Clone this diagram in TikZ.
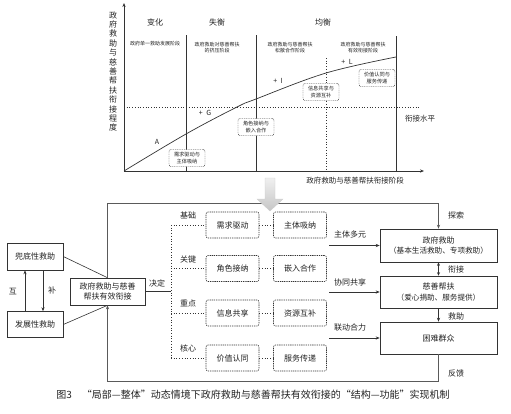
\documentclass[tikz,border=0pt]{standalone}
\usepackage{fontspec}
\setmainfont{Noto Sans CJK SC}
\usetikzlibrary{arrows.meta,calc}
\definecolor{lc}{HTML}{333333}
\definecolor{fc}{HTML}{5A5A5A}
\definecolor{tc}{HTML}{222222}
\begin{document}
\begin{tikzpicture}[x=1pt,y=-1pt,
  every node/.style={text=tc},
  ax/.style={draw=lc,line width=0.7pt},
  sl/.style={draw=lc,line width=0.6pt},
  dl/.style={draw=lc,line width=0.7pt,dotted},
  arr/.style={-{Stealth[length=4pt,width=3.2pt]}},
  cbox/.style={draw=lc,line width=0.45pt,dash pattern=on 1pt off 0.8pt,rounded corners=2pt,fill=white,
    minimum width=36pt,minimum height=17pt,inner sep=0pt,align=center,font=\fontsize{5.2}{6.6}\selectfont},
  lbl/.style={font=\fontsize{8}{9.6}\selectfont},
  stg/.style={font=\fontsize{5}{6.8}\selectfont,align=center},
  letr/.style={font=\fontsize{7}{8}\selectfont},
  sbox/.style={draw=lc,line width=0.6pt,fill=white,inner sep=0pt,align=center,font=\fontsize{8}{10.5}\selectfont},
  dbox/.style={draw=lc,line width=0.55pt,dash pattern=on 1.3pt off 0.9pt,rounded corners=2pt,fill=white,
    minimum width=53pt,minimum height=26pt,inner sep=0pt,font=\fontsize{8}{9.6}\selectfont},
  rbox/.style={draw=lc,line width=0.6pt,fill=white,minimum width=117pt,minimum height=32pt,inner sep=0pt,
    align=center,font=\fontsize{7.6}{10.5}\selectfont},
  frm/.style={draw=fc,line width=0.8pt}
]
\useasboundingbox (0,0) rectangle (511,413);

% ---------------- top chart ----------------
\coordinate (O) at (124,171);
\coordinate (Ytop) at (124,3);
\coordinate (Xend) at (424,171);
\draw[ax,arr] (O) -- (Ytop);
\draw[ax,arr] (O) -- (Xend);

\coordinate (v1t) at (186,35); \coordinate (v1b) at (186,171);
\coordinate (v2t) at (256,35); \coordinate (v2b) at (256,171);
\coordinate (v3t) at (396,36); \coordinate (v3b) at (396,171);
\draw[sl] (v1t) -- (v1b);
\draw[sl] (v2t) -- (v2b);
\draw[sl] (v3t) -- (v3b);
\coordinate (d1t) at (326,58); \coordinate (d1b) at (326,171);
\draw[dl,line width=0.6pt] (d1t) -- (d1b);
\coordinate (h1l) at (124,107); \coordinate (h1r) at (420,107);
\draw[dl,line width=0.6pt] (h1l) -- (h1r);

\draw[lc,line width=0.7pt] plot[smooth,tension=0.6] coordinates {(124,171) (186,134) (237,107) (256,99) (326,73) (396,57)};

\node[align=center,font=\fontsize{8}{9.4}\selectfont] (ylab) at (113,71.5)
  {政\\府\\救\\助\\与\\慈\\善\\帮\\扶\\衔\\接\\程\\度};
\node[font=\fontsize{7.5}{9}\selectfont] (xlab) at (355,181) {政府救助与慈善帮扶衔接阶段};
\node[font=\fontsize{7.5}{9}\selectfont] (lvl) at (420,119) {衔接水平};

\node[lbl] (s1) at (155,22) {变化};
\node[lbl] (s2) at (217,22) {失衡};
\node[lbl] (s3) at (323,22) {均衡};
\node[stg] (p1) at (155,44) {政府单一救助发展阶段};
\node[stg] (p2) at (217,47.5) {政府救助对慈善帮扶\\的挤压阶段};
\node[stg] (p3) at (290,47.5) {政府救助与慈善帮扶\\松散合作阶段};
\node[stg] (p4) at (363,47.5) {政府救助与慈善帮扶\\有效衔接阶段};

\node[letr] (la) at (157,142) {A};
\node[letr] (lg) at (205,113) {+\enspace G};
\node[letr] (li) at (278,81) {+\enspace I};
\node[letr] (ll) at (347,62) {+\enspace L};

\node[cbox] (c1) at (187,158) {需求驱动与\\主体吸纳};
\node[cbox] (c2) at (256,127) {角色接纳与\\嵌入合作};
\node[cbox] (c3) at (321,92) {信息共享与\\资源互补};
\node[cbox] (c4) at (377,78) {价值认同与\\服务传递};

% ---------------- bottom mechanism ----------------
\node[sbox,minimum width=56pt,minimum height=27pt] (n1) at (35,256.5) {兜底性救助};
\node[sbox,minimum width=56pt,minimum height=26pt] (n2) at (35,324.5) {发展性救助};
\node[sbox,minimum width=75pt,minimum height=27pt] (hub) at (107.5,291.5) {政府救助与慈善\\帮扶有效衔接};

\draw[sl,arr] ([xshift=-10pt]n2.north) -- ([xshift=-10pt]n1.south);
\draw[sl,arr] ([xshift=8pt]n1.south) -- ([xshift=8pt]n2.north);
\node[lbl] (hu) at (13,292) {互};
\node[lbl] (bu) at (52,290) {补};

\draw[sl] (n1.east) -- (hub.north);
\draw[sl] (n2.east) -- (hub.south);

% dashed boxes
\node[dbox] (a1) at (232.5,225) {需求驱动};
\node[dbox] (b1) at (300,225) {主体吸纳};
\node[dbox] (a2) at (232.5,268.5) {角色接纳};
\node[dbox] (b2) at (300,268.5) {嵌入合作};
\node[dbox] (a3) at (232.5,313) {信息共享};
\node[dbox] (b3) at (300,313) {资源互补};
\node[dbox] (a4) at (232.5,358) {价值认同};
\node[dbox] (b4) at (300,358) {服务传递};
\foreach \i in {1,2,3,4} {\draw[dl,line width=0.6pt] (a\i.east) -- (b\i.west);}

\coordinate (br1) at (171,225);
\coordinate (br4) at (171,358);
\coordinate (brm) at (171,291.5);
\draw[dl,line width=0.7pt] (br1) -- (br4);
\draw[dl,line width=0.6pt] (br1) -- (a1.west);
\draw[dl,line width=0.6pt] (a2.west -| br1) -- (a2.west);
\draw[dl,line width=0.6pt] (a3.west -| br1) -- (a3.west);
\draw[dl,line width=0.6pt] (br4) -- (a4.west);
\draw[sl] (hub.east) -- (brm);
\node[lbl] (jd) at (157,283) {决定};

\node[lbl] (k1) at (188,215) {基础};
\node[lbl] (k2) at (188,259) {关键};
\node[lbl] (k3) at (188,303) {重点};
\node[lbl] (k4) at (188,348) {核心};

% right boxes
\node[rbox,minimum height=33pt] (gov) at (438.5,245.5) {{\fontsize{8}{10.5}\selectfont 政府救助}\\（基本生活救助、专项救助）};
\node[rbox] (cha) at (438.5,292) {{\fontsize{8}{10.5}\selectfont 慈善帮扶}\\（爱心捐助、服务提供）};
\node[rbox] (poor) at (438.5,338) {\fontsize{8}{10.5}\selectfont 困难群众};

\coordinate (s1a) at (329,245.5);
\coordinate (s2a) at (329,292);
\coordinate (s3a) at (329,338);
\draw[sl,arr] (s1a) -- (gov.west);
\draw[sl,arr] (s2a) -- (cha.west);
\draw[sl,arr] (s3a) -- (poor.west);
\node[lbl] (m1) at (350,234) {主体多元};
\node[lbl] (m2) at (350,282) {协同共享};
\node[lbl] (m3) at (350,327) {联动合力};

\draw[sl,{Stealth[length=3.5pt,width=3pt]}-{Stealth[length=3.5pt,width=3pt]}] (gov.south) -- (cha.north);
\draw[sl,arr] (cha.south) -- (poor.north);
\node[lbl] (xj) at (456,269) {衔接};
\node[lbl] (jz) at (456,316) {救助};

% loops
\coordinate (tl) at (107.5,203);
\coordinate (tr) at (438.5,203);
\coordinate (bl) at (107.5,381);
\coordinate (bR) at (438.5,381);
\draw[frm,arr] (hub.north) -- (tl) -- (tr) -- (gov.north);
\draw[frm,arr] (poor.south) -- (bR) -- (bl) -- (hub.south);
\node[lbl] (ts) at (456,215) {探索};
\node[lbl] (fk) at (456,373) {反馈};

% big arrow
\shade[top color=gray!12,bottom color=gray!45,draw=gray!40,line width=0.3pt]
  (265,178) -- (275,178) -- (275,199) -- (283,199) -- (270,211) -- (257,199) -- (265,199) -- cycle;

% caption
\node[font=\fontsize{10}{12}\selectfont] (cap) at (253,395)
  {图3\quad “局部—整体”动态情境下政府救助与慈善帮扶有效衔接的“结构—功能”实现机制};
\end{tikzpicture}
\end{document}
